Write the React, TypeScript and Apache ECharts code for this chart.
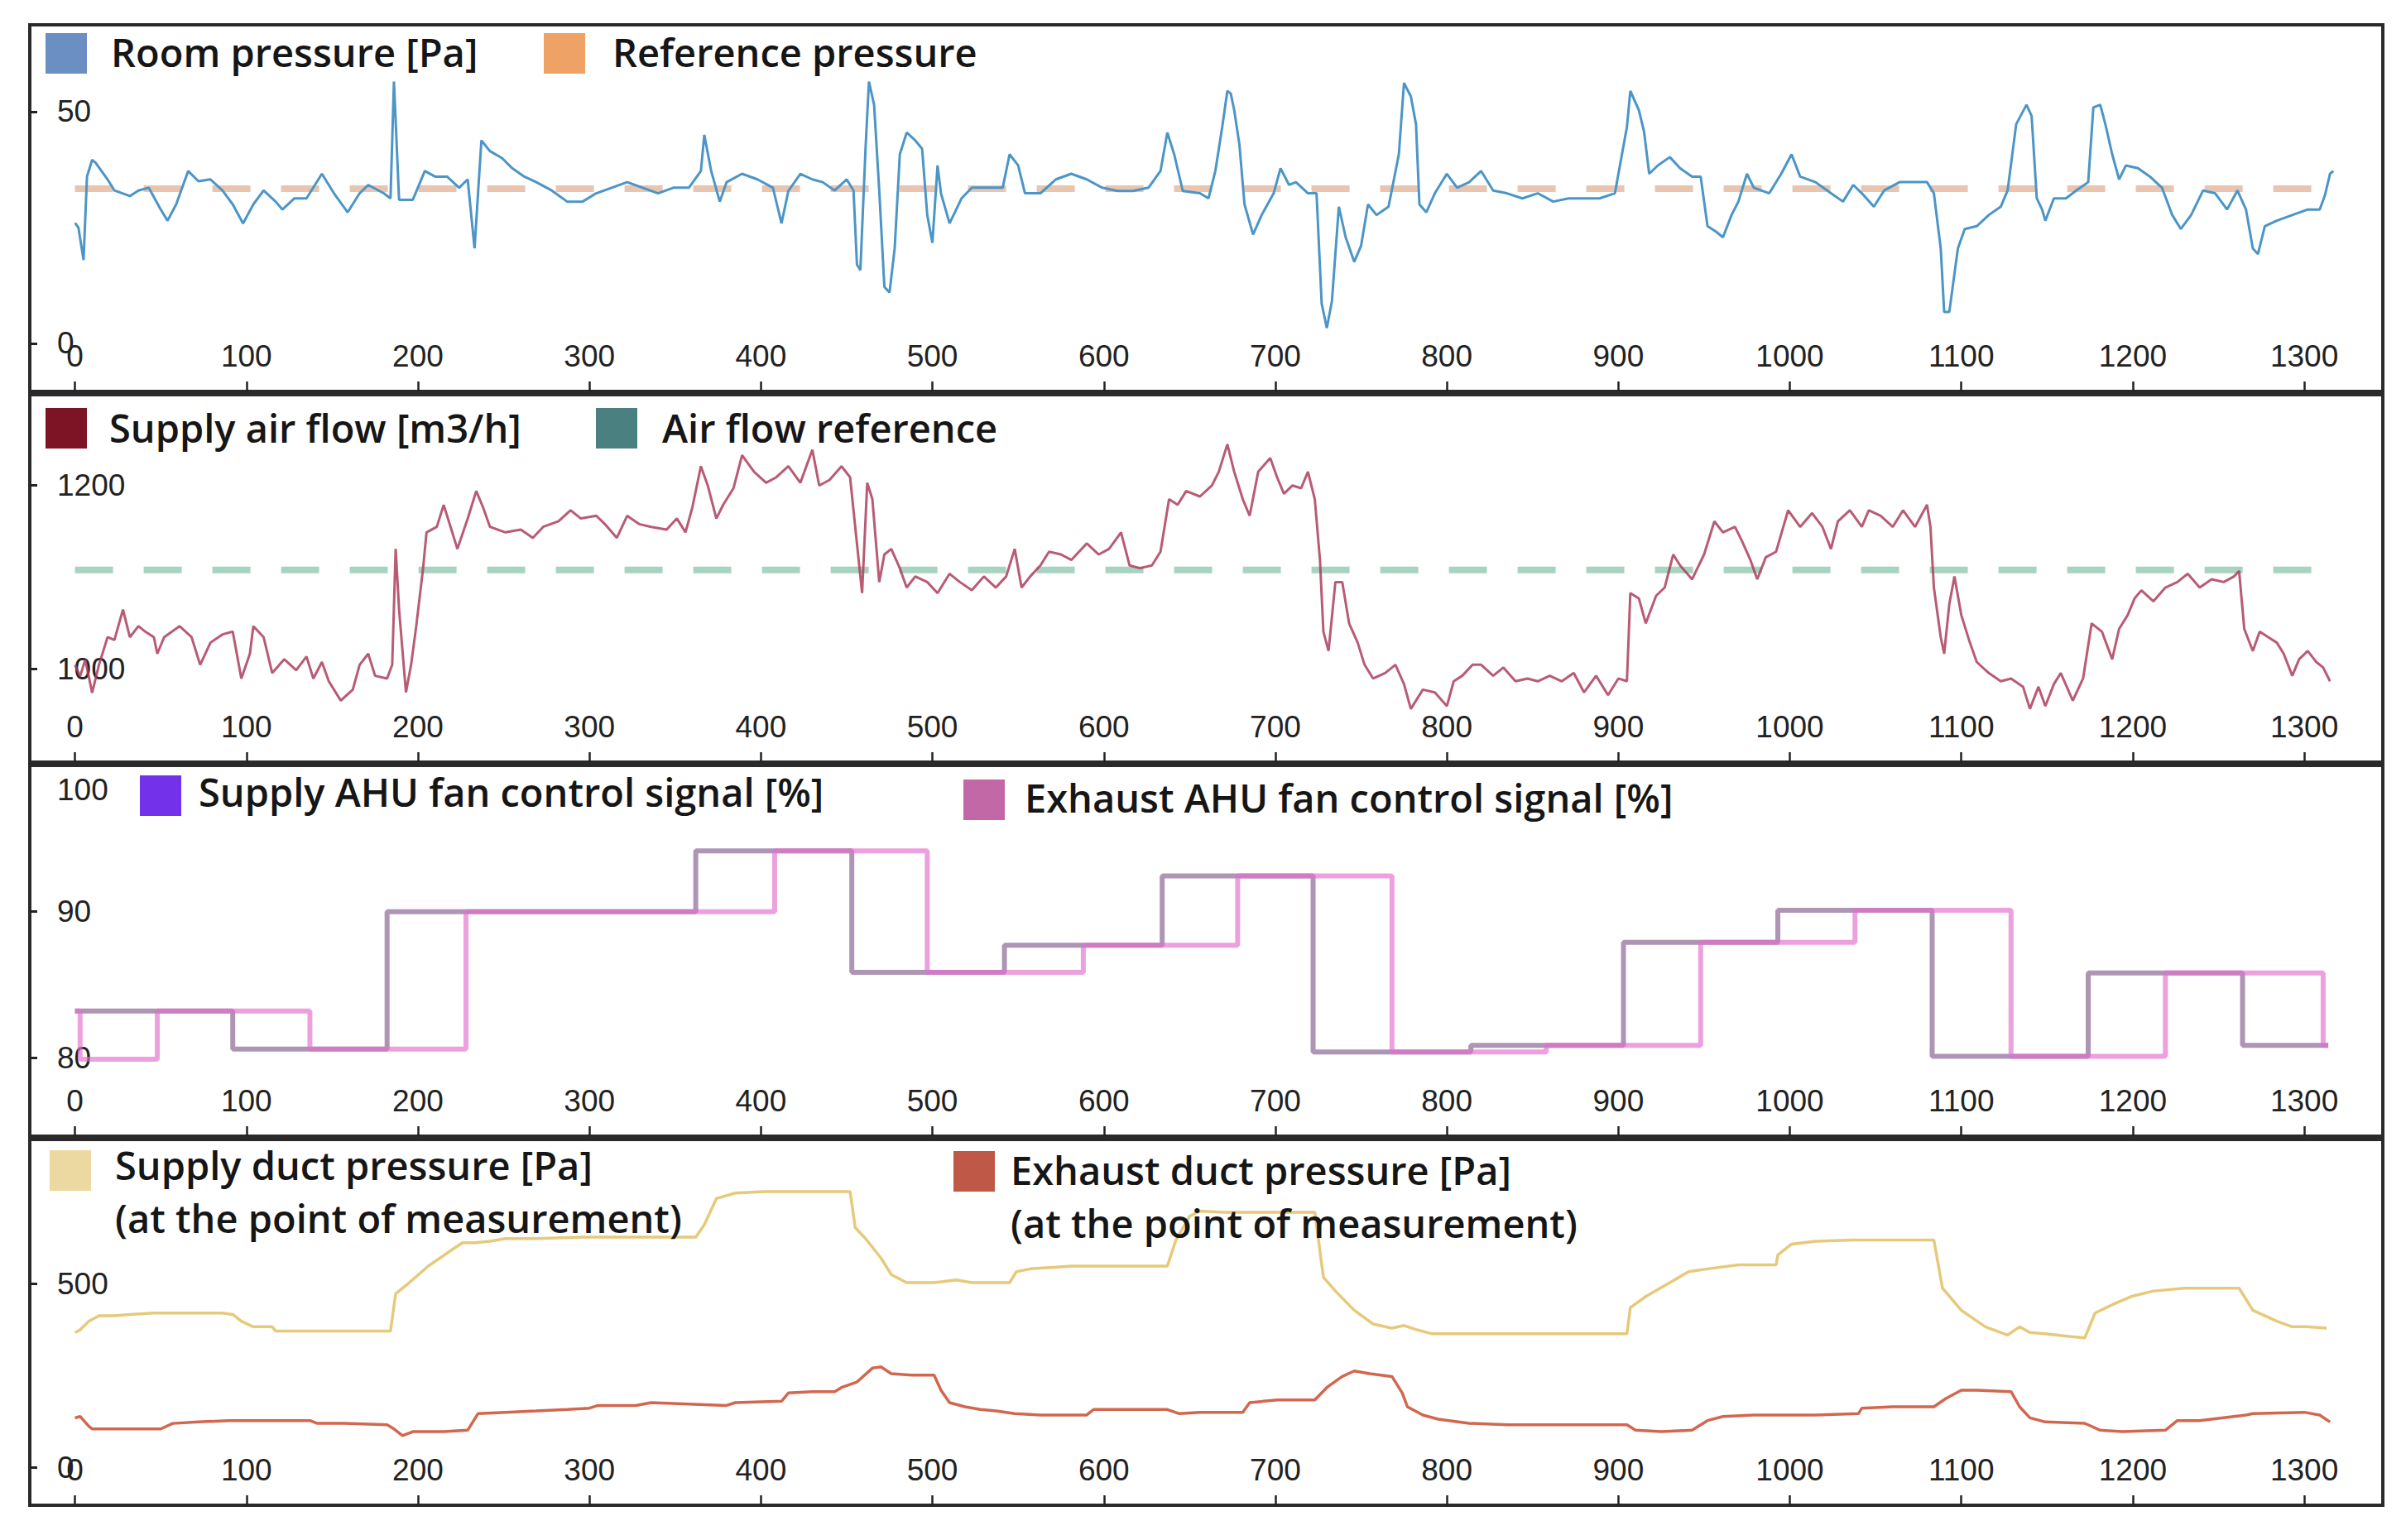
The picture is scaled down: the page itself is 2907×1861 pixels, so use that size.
import React, { useEffect, useRef } from "react";
import * as echarts from "echarts";

// ---------- tick labels ----------
const xTicks = [0, 100, 200, 300, 400, 500, 600, 700, 800, 900, 1000, 1100, 1200, 1300];
const pressureTicks = [0, 50];
const flowTicks = [1000, 1200];
const fanTicks = [80, 90, 100];
const ductTicks = [0, 500];

// ---------- legend names ----------
const panel1Names = ["Room pressure [Pa]", "Reference pressure"];
const panel2Names = ["Supply air flow [m3/h]", "Air flow reference"];
const panel3Names = ["Supply AHU fan control signal [%]", "Exhaust AHU fan control signal [%]"];
const panel4Names = ["Supply duct pressure [Pa]", "Exhaust duct pressure [Pa]"];
const panel4Sub = "(at the point of measurement)";

// ---------- series values [time, value] ----------
const roomPressure: [number, number][] = [
  [0, 26], [2, 25], [5, 18], [7, 36], [10, 39.6], [12, 39], [19, 35.4], [23, 33], [32, 31.8], [37, 33],
  [43, 33.6], [50, 28.9], [54, 26.5], [59, 30], [66, 37.2], [72, 35], [79, 35.4], [86, 33], [92, 30], [98, 25.9],
  [104, 30], [110, 33], [117, 30.6], [121, 28.9], [128, 31.3], [135, 31.3], [144, 36.6], [151, 32.4], [159, 28.3],
  [166, 32.4], [171, 34.2], [180, 32.4], [184, 31.3], [186, 56.5], [189, 31], [197, 31], [204, 37.2], [210, 36],
  [217, 36], [224, 33.6], [229, 35.4], [233, 20.5], [237, 43.8], [242, 41.5], [249, 40], [255, 37.8], [262, 36],
  [269, 34.8], [278, 33], [287, 30.6], [296, 30.6], [304, 32.4], [313, 33.6], [322, 34.8], [331, 33.6], [340, 32.4],
  [349, 33.6], [358, 33.6], [365, 37.2], [367, 45], [371, 37.2], [376, 30.6], [380, 34.8], [389, 36.6], [398, 35.4],
  [407, 33.6], [412, 25.9], [416, 32.9], [423, 36.6], [430, 35.4], [436, 34.8], [443, 33], [450, 35.4], [454, 33],
  [456, 17], [458, 15.8], [461, 42], [463, 56.5], [466, 51.5], [469, 33], [472, 12.2], [475, 11], [478, 20.5],
  [481, 40.8], [485, 45.5], [490, 43.8], [494, 42], [497, 27.7], [500, 21.7], [503, 38.4], [505, 32.4], [510, 25.9],
  [517, 31.3], [523, 33.6], [532, 33.6], [541, 33.6], [545, 40.8], [550, 38.4], [554, 32.4], [563, 32.4], [572, 35.4],
  [581, 36.6], [590, 35.4], [599, 33.6], [608, 32.9], [617, 32.9], [626, 33.6], [633, 37.2], [637, 45.5], [641, 40.8],
  [646, 32.9], [656, 32.4], [661, 31.3], [665, 37.2], [669, 46.7], [672, 54.5], [674, 53.9], [676, 50.3], [679, 43],
  [682, 30], [687, 23.5], [692, 27.7], [699, 32.4], [703, 37.8], [708, 34.2], [712, 34.8], [719, 32.4], [724, 32.4],
  [727, 8.6], [730, 3.3], [733, 9.2], [737, 29.5], [741, 22.9], [746, 17.6], [750, 21.1], [754, 30], [759, 27.7],
  [766, 29.5], [772, 40.8], [775, 56.2], [779, 53.3], [782, 47.3], [784, 30], [788, 28.3], [793, 32.4], [800, 36.6],
  [806, 33.6], [813, 34.8], [820, 37.2], [827, 33], [835, 32.4], [844, 31.3], [853, 32.4], [862, 30.6], [871, 31.3],
  [880, 31.3], [889, 31.3], [898, 32.4], [905, 46.7], [907, 54.5], [912, 50.3], [915, 45.7], [918, 36.6], [923, 38.4],
  [930, 40.2], [936, 37.8], [943, 36], [948, 36], [952, 25.3], [957, 24.1], [961, 22.9], [966, 27.7], [970, 30.6],
  [975, 36.6], [979, 33.6], [988, 32.4], [995, 36.6], [1001, 40.8], [1006, 36], [1015, 34.8], [1024, 32.4],
  [1031, 30.6], [1037, 34.2], [1042, 32.4], [1049, 29.5], [1055, 33], [1064, 34.8], [1073, 34.8], [1080, 34.8],
  [1084, 32.4], [1088, 20.5], [1090, 6.8], [1093, 6.8], [1098, 20.5], [1102, 24.7], [1109, 25.3], [1116, 27.7],
  [1123, 29.5], [1127, 33], [1132, 47.3], [1138, 51.5], [1141, 49.1], [1144, 31.3], [1147, 29], [1149, 26.5],
  [1154, 31.3], [1161, 31.3], [1167, 33], [1174, 34.8], [1177, 50.9], [1181, 51.5], [1184, 47.3], [1188, 40.8],
  [1192, 35.4], [1196, 38.4], [1203, 37.8], [1210, 36], [1217, 33.6], [1223, 27.7], [1228, 24.7], [1234, 27.7],
  [1241, 33], [1248, 32.4], [1255, 28.9], [1261, 33], [1266, 28.9], [1270, 20.5], [1273, 19.3], [1277, 25.3],
  [1284, 26.5], [1293, 27.7], [1302, 28.9], [1309, 28.9], [1312, 31.9], [1315, 36.6], [1317, 37.2],
];
const referencePressure: [number, number][] = [[0, 33.4], [1318, 33.4]];

const supplyAirFlow: [number, number][] = [
  [0, 1004.5], [3, 992], [6, 1010], [10, 974], [14, 1004.5], [19, 1034.6], [23, 1031.6], [28, 1064.7], [32, 1034.6],
  [37, 1046.6], [41, 1040.6], [46, 1034.6], [48, 1016.5], [52, 1034.6], [61, 1046.6], [68, 1034.6], [73, 1004.5],
  [79, 1028.6], [86, 1037.6], [92, 1040.6], [97, 989.5], [102, 1016.5], [104, 1046.6], [110, 1034.6], [115, 995.5],
  [122, 1010.5], [129, 998.5], [135, 1013.5], [139, 989.5], [144, 1007.5], [148, 986.5], [155, 965.4], [162, 977.4],
  [166, 1004.5], [171, 1016.5], [175, 992.5], [182, 989.5], [185, 1004.5], [187, 1130.8], [189, 1064.7], [193, 974.4],
  [196, 1004.5], [199, 1046.6], [203, 1109.8], [205, 1148.9], [211, 1154.9], [215, 1178.9], [220, 1148.9],
  [223, 1130.8], [229, 1163.9], [234, 1194], [238, 1176], [242, 1154.9], [251, 1148.9], [260, 1151.9], [267, 1142.9],
  [273, 1154.9], [282, 1161], [289, 1173], [295, 1164], [304, 1167], [309, 1157.9], [316, 1142.9], [322, 1167],
  [329, 1157.9], [336, 1154.9], [345, 1151.9], [351, 1164], [356, 1148.9], [360, 1176], [365, 1221], [369, 1200],
  [374, 1163.9], [378, 1179], [384, 1197], [389, 1233], [396, 1215], [403, 1203], [409, 1209], [416, 1221],
  [423, 1203], [430, 1239], [434, 1200], [440, 1206], [447, 1221], [452, 1209], [456, 1136.8], [459, 1082.7],
  [462, 1203], [465, 1185], [469, 1094.7], [472, 1124.8], [476, 1130.8], [481, 1109.8], [485, 1088.7], [490, 1100.8],
  [497, 1094.7], [503, 1082.7], [510, 1103.8], [516, 1094.7], [523, 1085.7], [530, 1100.8], [537, 1088.7],
  [543, 1100.8], [548, 1130.8], [552, 1088.7], [557, 1100.8], [563, 1112.8], [568, 1127.8], [575, 1124.8],
  [581, 1118.8], [590, 1136.8], [597, 1124.8], [603, 1130.8], [610, 1148.9], [615, 1112.8], [621, 1109.8],
  [628, 1112.8], [633, 1127.8], [638, 1185], [643, 1179], [648, 1194], [656, 1188], [663, 1200], [667, 1215],
  [672, 1245], [676, 1215], [681, 1185], [685, 1167], [690, 1215], [697, 1230], [701, 1209], [705, 1191], [710, 1200],
  [715, 1197], [719, 1215], [723, 1185], [726, 1118.8], [728, 1040.6], [731, 1019.5], [735, 1094.7], [739, 1094.7],
  [743, 1049.6], [748, 1028.6], [752, 1004.5], [757, 989.5], [764, 995.5], [770, 1004.5], [775, 983.5], [779, 956.4],
  [786, 977.4], [793, 974.4], [800, 959.4], [804, 986.5], [809, 992.5], [815, 1004.5], [820, 1004.5], [827, 992.5],
  [833, 1001.5], [840, 986.5], [847, 989.5], [853, 986.5], [860, 992.5], [867, 986.5], [874, 995.5], [880, 974.4],
  [887, 992.5], [894, 971.4], [900, 989.5], [905, 986.5], [907, 1082.7], [912, 1076.7], [916, 1049.6], [922, 1079.7],
  [927, 1088.7], [932, 1124.8], [936, 1112.8], [943, 1097.7], [950, 1124.8], [956, 1160.9], [961, 1148.9],
  [968, 1154.9], [972, 1139.8], [977, 1118.8], [981, 1097.7], [986, 1121.8], [992, 1127.8], [999, 1172.9],
  [1006, 1154.9], [1013, 1169.9], [1019, 1154.9], [1024, 1130.8], [1028, 1160.9], [1035, 1172.9], [1042, 1154.9],
  [1046, 1172.9], [1053, 1166.9], [1060, 1154.9], [1066, 1172.9], [1073, 1154.9], [1080, 1179], [1082, 1154.9],
  [1084, 1088.7], [1088, 1034.6], [1090, 1016.5], [1093, 1070.7], [1096, 1100.8], [1100, 1058.6], [1105, 1028.6],
  [1109, 1007.5], [1116, 995.5], [1123, 986.5], [1129, 989.5], [1136, 980.5], [1140, 956.4], [1145, 980.5],
  [1149, 959.4], [1154, 983.5], [1158, 995.5], [1165, 965.4], [1171, 989.5], [1176, 1049.6], [1182, 1040.6],
  [1188, 1010.5], [1192, 1043.6], [1197, 1058.6], [1201, 1076.7], [1205, 1085.7], [1212, 1073.7], [1219, 1088.7],
  [1226, 1094.7], [1232, 1103.8], [1239, 1088.7], [1246, 1097.7], [1253, 1094.7], [1259, 1100.8], [1262, 1106.8],
  [1265, 1043.6], [1270, 1019.5], [1274, 1040.6], [1279, 1034.6], [1284, 1028.6], [1288, 1016.5], [1293, 992.5],
  [1297, 1010.5], [1302, 1019.5], [1307, 1007.5], [1311, 1001.5], [1315, 986.5],
];
const airFlowReference: [number, number][] = [[0, 1108], [1318, 1108]];

const supplyFanSignal: [number, number][] = [
  [0, 83.2], [92, 80.6], [182, 90], [362, 94.15], [453, 85.85], [542, 87.7], [634, 92.45], [722, 80.4],
  [814, 80.85], [903, 87.9], [993, 90.1], [1083, 80.1], [1174, 85.8], [1264, 80.85], [1314, 80.85],
];
const exhaustFanSignal: [number, number][] = [
  [0, 83.2], [3, 79.9], [48, 83.2], [137, 80.6], [228, 90], [408, 94.15], [497, 85.85], [588, 87.7], [678, 92.45],
  [768, 80.4], [858, 80.85], [948, 87.9], [1038, 90.1], [1129, 80.1], [1219, 85.8], [1311, 80.85], [1314, 80.85],
];

const supplyDuctPressure: [number, number][] = [
  [0, 368], [3, 375], [8, 398.5], [14, 413.5], [23, 413.5], [32, 417], [46, 421], [59, 421], [72, 421], [86, 421],
  [92, 417], [97, 398.5], [104, 383.5], [115, 383.5], [117, 372], [140, 372], [160, 372], [184, 372], [187, 473.7],
  [193, 496], [206, 549], [220, 594], [226, 612.8], [233, 612.8], [242, 616.5], [251, 624], [269, 624], [296, 628],
  [330, 628], [362, 628], [367, 661.6], [374, 733], [385, 748], [402, 752], [425, 752], [452, 752], [455, 654],
  [461, 624], [470, 571], [476, 526], [485, 503.8], [501, 503.8], [514, 511], [523, 503.8], [545, 503.8], [549, 533.8],
  [557, 541.4], [581, 549], [617, 549], [637, 549], [642, 620], [650, 685], [656, 699], [670, 695.5], [700, 695.5],
  [723, 695.5], [728, 518.8], [735, 481], [746, 428.6], [757, 391], [768, 379.7], [775, 387], [782, 376],
  [791, 364.7], [835, 364.7], [880, 364.7], [905, 364.7], [907, 436], [916, 466], [930, 503.8], [941, 533.8],
  [952, 541.4], [970, 552.6], [992, 552.6], [993, 579], [1001, 609], [1015, 616.5], [1037, 620], [1060, 620],
  [1084, 620], [1089, 488.7], [1100, 428.6], [1114, 383.5], [1127, 361], [1134, 383.5], [1140, 368], [1149, 364.7],
  [1163, 357], [1172, 353.4], [1178, 421], [1188, 443.6], [1199, 466], [1212, 481], [1230, 488.7], [1239, 488.7],
  [1262, 488.7], [1270, 428.6], [1284, 398.5], [1293, 383.5], [1302, 383.5], [1313, 379.7],
];
const exhaustDuctPressure: [number, number][] = [
  [0, 135], [3, 139], [8, 112.8], [10, 105], [23, 105], [50, 105], [57, 120], [72, 124], [90, 127.8], [112, 127.8],
  [137, 127.8], [141, 120.3], [157, 120.3], [182, 116.5], [186, 105], [191, 86.5], [197, 97.7], [215, 97.7],
  [229, 101.5], [235, 146.6], [251, 150.4], [269, 154], [287, 157.9], [300, 161.7], [305, 169], [327, 169],
  [336, 176.7], [358, 172.9], [380, 169], [385, 176.7], [412, 180.5], [416, 203], [430, 206.8], [443, 206.8],
  [447, 218], [456, 233], [465, 270.7], [470, 274.4], [476, 255.6], [488, 251.9], [501, 251.9], [505, 210.5],
  [510, 176.7], [519, 165.4], [528, 157.9], [537, 154], [548, 146.6], [563, 142.9], [590, 142.9], [594, 157.9],
  [616, 157.9], [637, 157.9], [644, 146.6], [656, 150.4], [681, 150.4], [685, 176.7], [701, 184], [723, 184],
  [730, 218], [739, 248], [746, 263], [755, 255.6], [768, 248], [774, 203], [777, 165.4], [786, 142.9], [795, 131.6],
  [813, 120.3], [835, 116.5], [871, 116.5], [905, 116.5], [910, 101.5], [925, 97.7], [943, 101.5], [952, 127.8],
  [961, 139], [979, 142.9], [1015, 142.9], [1040, 146.6], [1042, 161.7], [1060, 165.4], [1084, 165.4], [1091, 188],
  [1100, 210.5], [1109, 210.5], [1129, 206.8], [1134, 165.4], [1140, 135.3], [1149, 124], [1172, 120.3],
  [1181, 101.5], [1194, 97.7], [1219, 101.5], [1226, 127.8], [1239, 127.8], [1266, 142.9], [1270, 146.6],
  [1300, 150.4], [1309, 142.9], [1315, 124],
];

// ---------- helpers ----------
const AXIS_COLOR = "#222222";
const TICK_FONT = "Liberation Sans";
const LEGEND_FONT = "Open Sans";

function makeXAxis(gridIndex: number) {
  return {
    type: "value",
    gridIndex,
    min: -26.35,
    max: 1345.8,
    axisLine: { show: false, onZero: false },
    splitLine: { show: false },
    axisTick: {
      show: true,
      inside: true,
      length: 12,
      customValues: xTicks,
      lineStyle: { color: AXIS_COLOR, width: 2.5 },
    },
    axisLabel: {
      inside: true,
      margin: 24,
      customValues: xTicks,
      formatter: (v: number) => String(v),
      color: AXIS_COLOR,
      fontSize: 37,
      fontFamily: TICK_FONT,
    },
  };
}

function makeYAxis(gridIndex: number, min: number, max: number, ticks: number[], extra: any = {}) {
  return {
    type: "value",
    gridIndex,
    min,
    max,
    axisLine: { show: false, onZero: false },
    splitLine: { show: false },
    axisTick: {
      show: true,
      inside: true,
      length: 9,
      customValues: ticks.filter((t) => t < max - 0.5),
      lineStyle: { color: AXIS_COLOR, width: 3 },
    },
    axisLabel: {
      inside: true,
      margin: 33,
      customValues: ticks,
      formatter: (v: number) => String(v),
      color: AXIS_COLOR,
      fontSize: 37,
      fontFamily: TICK_FONT,
      ...extra,
    },
  };
}

function lineSeries(name: string, data: [number, number][], idx: number, color: string, width: number, extra: any = {}) {
  return {
    name,
    type: "line",
    xAxisIndex: idx,
    yAxisIndex: idx,
    data,
    showSymbol: false,
    symbol: "none",
    silent: true,
    lineStyle: { color, width, ...(extra.lineStyle || {}) },
    itemStyle: { color },
    ...(extra.step ? { step: extra.step } : {}),
    z: extra.z ?? 2,
  };
}

function legendBox(x: number, y: number, color: string) {
  return { type: "rect", shape: { x, y, width: 50, height: 49 }, style: { fill: color }, z: 100 };
}
function legendText(x: number, y: number, text: string) {
  return {
    type: "text",
    x,
    y,
    z: 100,
    style: {
      text,
      fontSize: 47,
      fontWeight: 600,
      fontFamily: LEGEND_FONT,
      fill: "#161616",
      verticalAlign: "middle",
      align: "left",
    },
  };
}

export default function App() {
  const ref = useRef<HTMLDivElement>(null);

  useEffect(() => {
    document.body.style.margin = "0";
    document.body.style.overflow = "hidden";
    if (!ref.current) return;
    const chart = echarts.init(ref.current, undefined, { renderer: "svg" });

    const gridBase = { left: 36, width: 2843, show: true, borderColor: "#2a2a2a", borderWidth: 4, backgroundColor: "#ffffff", containLabel: false };

    const option: any = {
      animation: false,
      backgroundColor: "#ffffff",
      grid: [
        { ...gridBase, top: 30, height: 443 },
        { ...gridBase, top: 477, height: 444 },
        { ...gridBase, top: 925, height: 448 },
        { ...gridBase, top: 1377, height: 442 },
      ],
      xAxis: [makeXAxis(0), makeXAxis(1), makeXAxis(2), makeXAxis(3)],
      yAxis: [
        makeYAxis(0, -10.36, 68.75, pressureTicks),
        makeYAxis(1, 898.3, 1299, flowTicks),
        makeYAxis(2, 74.64, 100, fanTicks, {
          formatter: (v: number) => (v === 100 ? "{t|100}" : String(v)),
          rich: { t: { padding: [58, 0, 0, 0], fontSize: 37, fontFamily: TICK_FONT, color: AXIS_COLOR } },
        }),
        makeYAxis(3, -103.1, 894.2, ductTicks),
      ],
      series: [
        lineSeries(panel1Names[1], referencePressure, 0, "rgba(226,178,150,0.75)", 8, { lineStyle: { type: [46, 37] }, z: 1 }),
        lineSeries(panel1Names[0], roomPressure, 0, "#4b95c7", 3),
        lineSeries(panel2Names[1], airFlowReference, 1, "rgba(150,205,182,0.85)", 8, { lineStyle: { type: [46, 37] }, z: 1 }),
        lineSeries(panel2Names[0], supplyAirFlow, 1, "rgba(172,62,92,0.85)", 3),
        lineSeries(panel3Names[0], supplyFanSignal, 2, "rgba(132,92,142,0.65)", 6, { step: "end" }),
        lineSeries(panel3Names[1], exhaustFanSignal, 2, "rgba(226,110,205,0.65)", 6, { step: "end" }),
        lineSeries(panel4Names[0], supplyDuctPressure, 3, "#e6c97a", 3.5),
        lineSeries(panel4Names[1], exhaustDuctPressure, 3, "#d2674f", 3.5),
      ],
      graphic: [
        legendBox(55, 40, "#6c8fc3"),
        legendText(134, 63, panel1Names[0]),
        legendBox(657, 40, "#eea265"),
        legendText(740, 63, panel1Names[1]),

        legendBox(55, 493, "#7c1426"),
        legendText(132, 517, panel2Names[0]),
        legendBox(720, 493, "#4b8080"),
        legendText(800, 517, panel2Names[1]),

        legendBox(169, 937, "#7431ea"),
        legendText(240, 957, panel3Names[0]),
        legendBox(1164, 942, "#c268a6"),
        legendText(1238, 964, panel3Names[1]),

        legendBox(60, 1390, "#ecd9a1"),
        legendText(139, 1408, panel4Names[0]),
        legendText(139, 1472, panel4Sub),
        legendBox(1152, 1391, "#c05848"),
        legendText(1221, 1414, panel4Names[1]),
        legendText(1221, 1478, panel4Sub),
      ],
    };

    chart.setOption(option);
    return () => {
      chart.dispose();
    };
  }, []);

  return <div ref={ref} style={{ width: 2907, height: 1861 }} />;
}
